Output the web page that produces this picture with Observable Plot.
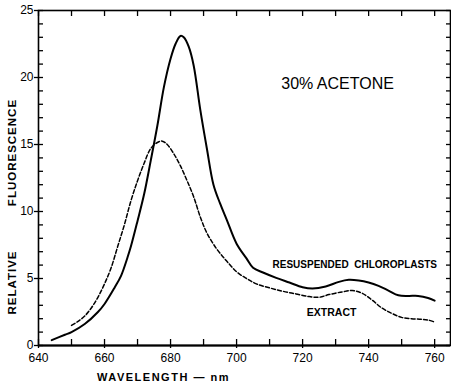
<!DOCTYPE html>
<html>
<head>
<meta charset="utf-8">
<script src="https://cdn.jsdelivr.net/npm/d3@7"></script>
<script src="https://cdn.jsdelivr.net/npm/@observablehq/plot@0.6"></script>
<style>
  html, body { margin: 0; padding: 0; background: #fff; }
  svg { font-family: "Liberation Sans", Arial, sans-serif; }
</style>
</head>
<body>
<div id="chart"></div>
<script>
// Resuspended chloroplasts (solid)
const chloroWl = [644, 648, 650, 654, 658, 660, 663, 665, 667, 668, 670, 672, 674, 676, 678, 680, 681.5, 683, 684, 685.5, 687, 689, 691, 693, 695, 697, 700, 703, 705, 708, 712, 716, 720, 723, 727, 731, 734, 737, 740, 743, 746, 749, 752, 755, 758, 760];
const chloroVal = [0.4, 0.8, 1.0, 1.6, 2.5, 3.1, 4.3, 5.2, 6.6, 7.4, 9.3, 11.3, 13.8, 16.4, 19.3, 21.4, 22.5, 23.1, 23.0, 22.3, 20.9, 17.6, 14.7, 12.0, 10.6, 9.4, 7.6, 6.5, 5.8, 5.45, 5.05, 4.7, 4.35, 4.25, 4.4, 4.75, 4.9, 4.85, 4.7, 4.45, 4.1, 3.75, 3.7, 3.7, 3.55, 3.35];
// Extract (dashed)
const extractWl = [650, 652, 654, 656, 658, 660, 662, 664, 666, 668, 670, 672, 674, 676, 677.5, 679, 681, 683, 685, 687, 689, 691, 694, 697, 700, 703, 706, 710, 714, 718, 722, 725, 728, 732, 735, 738, 741, 744, 747, 750, 753, 756, 758, 760];
const extractVal = [1.5, 1.8, 2.2, 2.8, 3.6, 4.6, 5.8, 7.4, 9.0, 10.8, 12.3, 13.6, 14.7, 15.15, 15.25, 15.0, 14.3, 13.4, 12.3, 11.1, 9.6, 8.4, 7.2, 6.3, 5.5, 5.0, 4.6, 4.3, 4.05, 3.85, 3.65, 3.6, 3.8, 4.0, 4.1, 3.9, 3.4, 2.8, 2.4, 2.1, 2.0, 1.95, 1.9, 1.75];

const xTickLabels = [640, 660, 680, 700, 720, 740, 760];
const xMinorTicks = [640, 650, 660, 670, 680, 690, 700, 710, 720, 730, 740, 750, 760];
const yTickLabels = [0, 5, 10, 15, 20, 25];
const yMinorTicks = d3.range(0, 26);

const chloro = chloroWl.map((w, i) => ({w, v: chloroVal[i]}));
const extract = extractWl.map((w, i) => ({w, v: extractVal[i]}));

const W = 451, H = 388;
const mL = 38, mR = 1, mT = 10, mB = 43;
const plotW = W - mL - mR, plotH = H - mT - mB;

const font = "'Liberation Sans', Arial, sans-serif";
const narrow = "'Liberation Sans Narrow', 'Liberation Sans', sans-serif";

const chart = Plot.plot({
  width: W,
  height: H,
  marginLeft: mL,
  marginRight: mR,
  marginTop: mT,
  marginBottom: mB,
  style: {fontFamily: font, background: "#fff", color: "#000"},
  x: {domain: [640, 764.8], label: null},
  y: {domain: [0, 25], label: null},
  marks: [
    Plot.ruleX(xMinorTicks, {stroke: "#000", strokeWidth: 1.3, insetTop: plotH - 6}),
    Plot.ruleX(xMinorTicks, {stroke: "#000", strokeWidth: 1.3, insetBottom: plotH - 6}),
    Plot.ruleY(yMinorTicks, {stroke: "#000", strokeWidth: 1.3, insetRight: plotW - 5}),
    Plot.ruleY(yMinorTicks, {stroke: "#000", strokeWidth: 1.3, insetLeft: plotW - 4}),
    Plot.axisX(xTickLabels, {anchor: "bottom", tickSize: 3, tickPadding: 5, fontSize: 12, label: null, strokeWidth: 1.3}),
    Plot.axisY(yTickLabels, {anchor: "left", tickSize: 4, tickPadding: 1, fontSize: 12, label: null, strokeWidth: 1.3}),
    Plot.frame({stroke: "#000", strokeWidth: 1.6}),
    Plot.ruleY([0], {stroke: "#000", strokeWidth: 2}),
    Plot.line(chloro, {x: "w", y: "v", curve: "catmull-rom", stroke: "#000", strokeWidth: 2}),
    Plot.line(extract, {x: "w", y: "v", curve: "catmull-rom", stroke: "#000", strokeWidth: 1.5, strokeDasharray: "4,2.2"}),
    Plot.text(["30% ACETONE"], {x: 730.6, y: 19.55, fontSize: 16, fill: "#000", textAnchor: "middle"}),
    Plot.text(["RESUSPENDED  CHLOROPLASTS"], {x: 735.8, y: 6.0, fontSize: 10, fontWeight: "bold", fontFamily: narrow, fill: "#000", textAnchor: "middle"}),
    Plot.text(["EXTRACT"], {x: 728.8, y: 2.43, fontSize: 10.5, fontWeight: "bold", fontFamily: narrow, fill: "#000", textAnchor: "middle"}),
    Plot.text(["FLUORESCENCE"], {y: 14.4, frameAnchor: "left", dx: -26, rotate: -90, fontSize: 11.5, fontWeight: "bold", fill: "#000", textAnchor: "middle"}),
    Plot.text(["RELATIVE"], {y: 4.7, frameAnchor: "left", dx: -26, rotate: -90, fontSize: 11.5, fontWeight: "bold", fill: "#000", textAnchor: "middle"}),
    Plot.text(["WAVELENGTH — nm"], {frameAnchor: "bottom-left", dx: 125, dy: 35, fontSize: 11, fontWeight: "bold", fill: "#000", textAnchor: "middle"})
  ]
});

chart.querySelectorAll("text").forEach(t => {
  if (t.textContent === "WAVELENGTH — nm") t.style.letterSpacing = "1.5px";
  if (t.textContent === "FLUORESCENCE" || t.textContent === "RELATIVE") t.style.letterSpacing = "1px";
});

document.getElementById("chart").appendChild(chart);
</script>
</body>
</html>
